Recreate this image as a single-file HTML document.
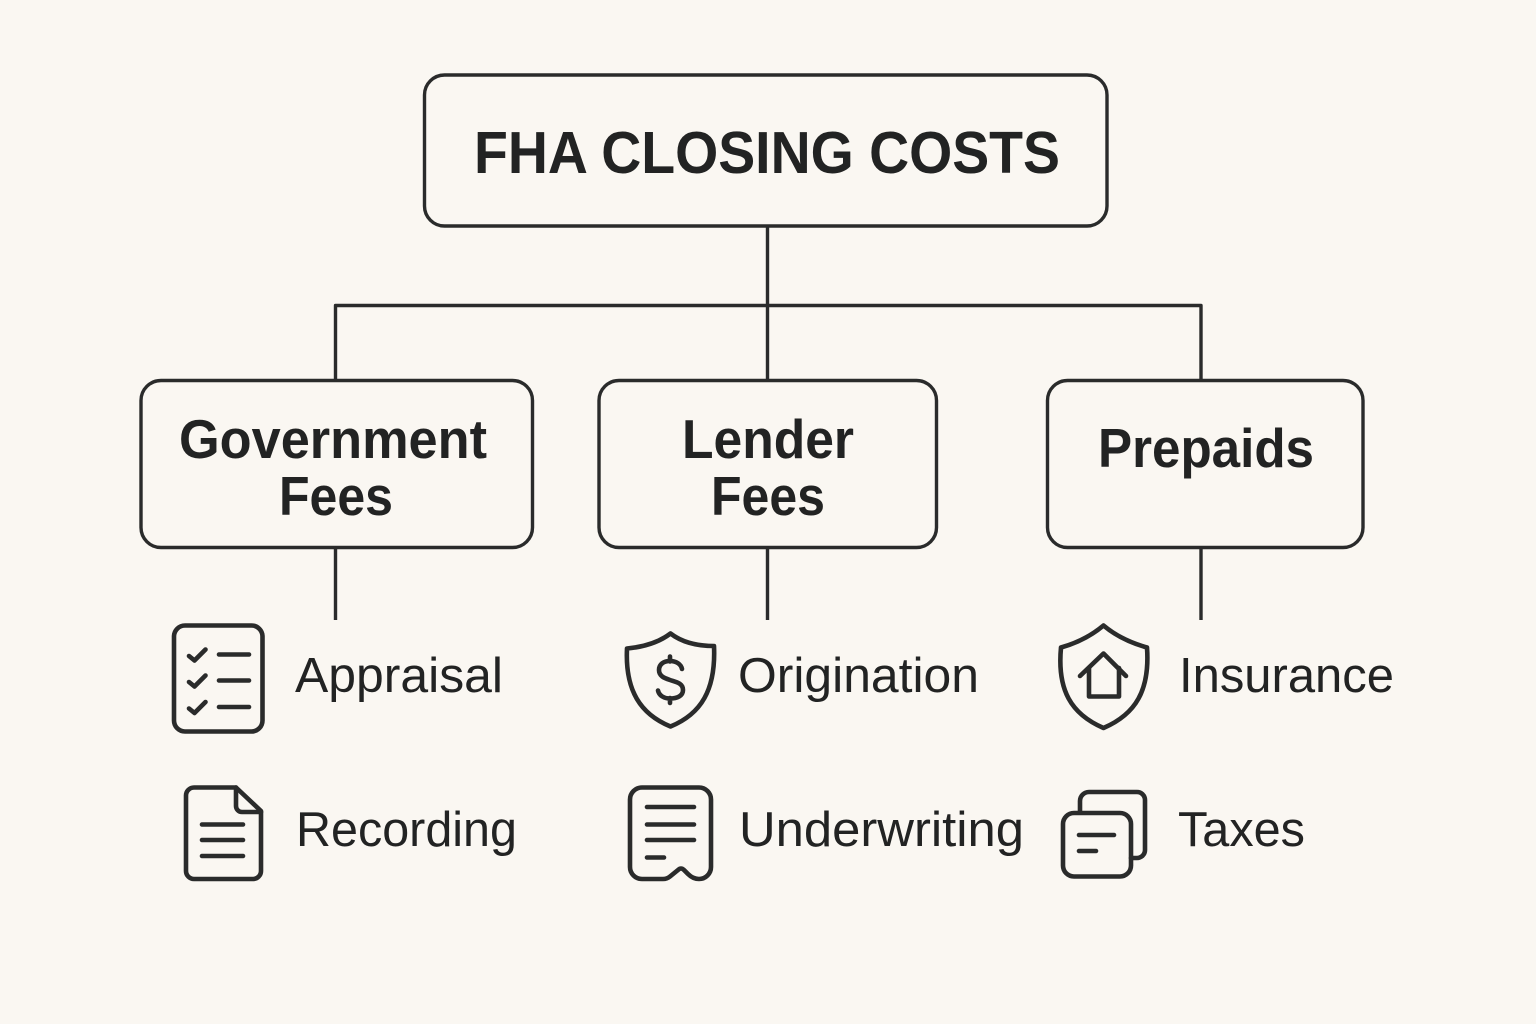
<!DOCTYPE html>
<html><head><meta charset="utf-8"><style>
html,body{margin:0;padding:0;background:#faf7f2}
svg{display:block}
text{font-family:"Liberation Sans",sans-serif;fill:#222323}
.b{font-weight:bold;font-size:55px}
.r{font-size:49px}
</style></head><body>
<svg width="1536" height="1024" viewBox="0 0 1536 1024" xmlns="http://www.w3.org/2000/svg">
<rect width="1536" height="1024" fill="#faf7f2"/>
<g fill="none" stroke="#2a2b2b" stroke-width="3.4" stroke-linecap="round" stroke-linejoin="round">
<rect x="424.500" y="75" width="682.500" height="151" rx="20"/>
<rect x="141" y="380.500" width="391.500" height="167" rx="20"/>
<rect x="599" y="380.500" width="337.500" height="167" rx="20"/>
<rect x="1047.500" y="380.500" width="315.500" height="167" rx="20"/>
<g stroke-linecap="butt">
<path d="M767.500 226V380M335.500 380V305.500H1201V380"/>
<path d="M335.500 548V620M767.500 548V620M1201 548V620"/>
</g>
</g>
<g fill="none" stroke="#2a2b2b" stroke-width="4.6" stroke-linecap="round" stroke-linejoin="round">
<!-- checklist -->
<rect x="174" y="625.500" width="88.500" height="106" rx="11"/>
<path d="M189 656l5.500 4.500 11-11M189 682l5.500 4.500 11-11M189 708.500l5.500 4.500 11-11"/>
<path d="M219 654.500h30M219 680.500h30M219 707h30"/>
<!-- document -->
<path d="M236 787.500H194a8 8 0 0 0-8 8V871a8 8 0 0 0 8 8h59a8 8 0 0 0 8-8V811Z"/>
<path d="M236 787.500V806a6 6 0 0 0 6 6H261"/>
<path d="M202 824.500h41M202 840h41M202 856h41"/>
<!-- shield dollar -->
<path d="M670.500 633.500C658 643 643 647 627 648.500C625 690 640 714 670.500 726.500C701 714 716 690 714 646C698 646 683 643 670.500 633.500Z"/>
<path d="M682 669c-1-5-6-8-12-8c-6 0-11 3-11 9c0 6 5 8 11 10c6 2 13 3 13 10c0 6-6 8.500-13 8.500c-6 0-11-3-12-8M670 656.500v5M670 698v5"/>
<!-- receipt -->
<path d="M642 787.500H699a12 12 0 0 1 12 12V867a12 12 0 0 1-12 12c-5 0-8-2-11-5l-4-4q-3-3-6 0l-8 6.500q-3 2.500-7 2.500H642a12 12 0 0 1-12-12V799.500a12 12 0 0 1 12-12Z"/>
<path d="M647 807h47M647 824.500h47M647 840h47M647 857.500h17"/>
<!-- shield house -->
<path d="M1103.500 625.500C1091 636 1077 643 1061 647.500C1057 690 1071 714 1103.500 728C1136 714 1150 690 1147 647.500C1131 643 1116 636 1103.500 625.500Z"/>
<path d="M1080 676l23.500-22.500L1126 676"/>
<path d="M1089 668V696.500H1119V668"/>
<!-- cards -->
<path d="M1080 811V801a9 9 0 0 1 9-9h48a8 8 0 0 1 8 8V850a8 8 0 0 1-8 8H1131"/>
<rect x="1063" y="813" width="68" height="63.500" rx="11"/>
<path d="M1079 835h35M1079 851h17"/>
</g>
<text x="474" y="173" font-size="59" font-weight="bold" textLength="586" lengthAdjust="spacingAndGlyphs">FHA CLOSING COSTS</text>
<text class="b" x="179" y="458" textLength="308" lengthAdjust="spacingAndGlyphs">Government</text>
<text class="b" x="279" y="515" textLength="114" lengthAdjust="spacingAndGlyphs">Fees</text>
<text class="b" x="682" y="458" textLength="172" lengthAdjust="spacingAndGlyphs">Lender</text>
<text class="b" x="711" y="515" textLength="114" lengthAdjust="spacingAndGlyphs">Fees</text>
<text class="b" x="1098" y="467" textLength="216" lengthAdjust="spacingAndGlyphs">Prepaids</text>
<text class="r" x="295" y="692" textLength="208" lengthAdjust="spacingAndGlyphs">Appraisal</text>
<text class="r" x="296" y="846" textLength="221" lengthAdjust="spacingAndGlyphs">Recording</text>
<text class="r" x="738" y="692" textLength="241" lengthAdjust="spacingAndGlyphs">Origination</text>
<text class="r" x="739" y="846" textLength="285" lengthAdjust="spacingAndGlyphs">Underwriting</text>
<text class="r" x="1179" y="692" textLength="215" lengthAdjust="spacingAndGlyphs">Insurance</text>
<text class="r" x="1178" y="846" textLength="127" lengthAdjust="spacingAndGlyphs">Taxes</text>
</svg>
</body></html>
